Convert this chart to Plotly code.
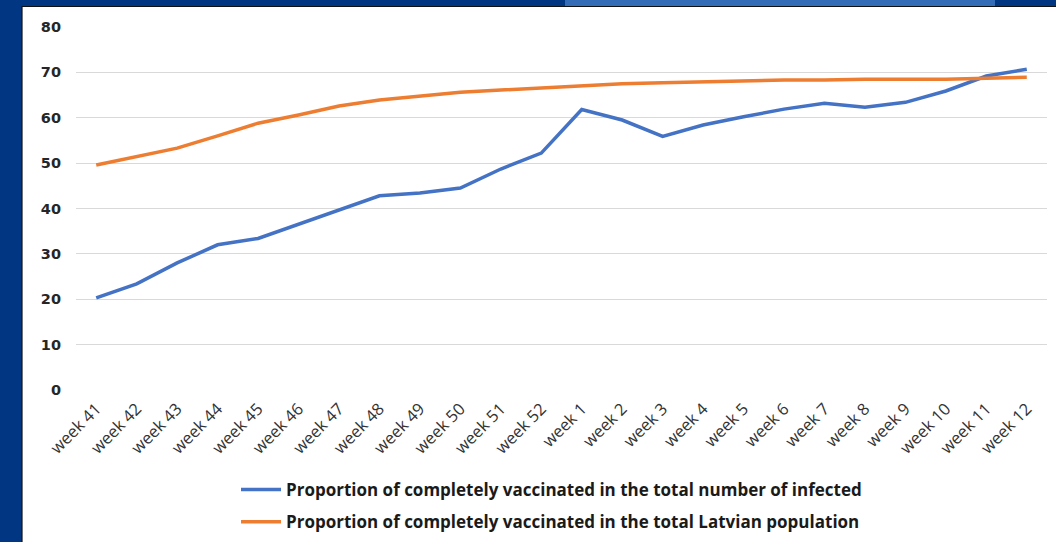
import plotly.graph_objects as go

weeks = ["week 41", "week 42", "week 43", "week 44", "week 45", "week 46", "week 47",
         "week 48", "week 49", "week 50", "week 51", "week 52", "week 1", "week 2",
         "week 3", "week 4", "week 5", "week 6", "week 7", "week 8", "week 9",
         "week 10", "week 11", "week 12"]

infected_vacc = [20.3, 23.4, 28.0, 32.0, 33.4, 36.6, 39.6, 42.8, 43.4, 44.5, 48.7, 52.2,
                 61.8, 59.5, 55.9, 58.4, 60.2, 61.9, 63.2, 62.3, 63.4, 65.9, 69.2, 70.7]

population_vacc = [49.6, 51.5, 53.3, 56.0, 58.8, 60.6, 62.6, 63.9, 64.8, 65.6, 66.1, 66.6,
                   67.1, 67.5, 67.7, 67.9, 68.1, 68.3, 68.3, 68.5, 68.5, 68.5, 68.7, 68.9]

names = ["Proportion of completely vaccinated in the total number of infected",
         "Proportion of completely vaccinated in the total Latvian population"]

W, H = 1056, 542
L, R, T, B = 76, 9, 27, 152
PW, PH = W - L - R, H - T - B


def fx(px):
    return (px - L) / PW


def fy(py):
    return (H - B - py) / PH


fig = go.Figure()
fig.add_trace(go.Scatter(x=weeks, y=infected_vacc, mode="lines", name=names[0],
                         legendgroup="a",
                         line=dict(color="#4472C4", width=3.5)))
fig.add_trace(go.Scatter(x=weeks, y=population_vacc, mode="lines", name=names[1],
                         legendgroup="b",
                         line=dict(color="#ED7D31", width=3.5)))

shapes = [
    dict(type="rect", xref="paper", yref="paper", x0=fx(-5), x1=fx(W + 5), y0=fy(H + 5), y1=fy(-5),
         fillcolor="#013682", line=dict(width=0), layer="below"),
    dict(type="rect", xref="paper", yref="paper", x0=fx(565), x1=fx(995), y0=fy(6), y1=fy(-5),
         fillcolor="#356cb8", line=dict(width=0), layer="below"),
    dict(type="rect", xref="paper", yref="paper", x0=fx(22), x1=fx(W + 20), y0=fy(H + 20), y1=fy(6.5),
         fillcolor="white", line=dict(color="#111111", width=1.2), layer="below"),
]

fig.update_layout(
    width=W, height=H,
    margin=dict(l=L, r=R, t=T, b=B, autoexpand=False),
    paper_bgcolor="#013682",
    plot_bgcolor="rgba(0,0,0,0)",
    shapes=shapes,
    showlegend=True,
    legend=dict(orientation="v", x=fx(236), y=fy(472), xanchor="left", yanchor="top",
                font=dict(family="Open Sans", size=17, color="#1a1a1a", weight="bold"),
                tracegroupgap=7, itemwidth=40, bgcolor="rgba(0,0,0,0)"),
    xaxis=dict(
        type="category", range=[-0.5, len(weeks) - 0.5], automargin=False,
        tickangle=-45, showgrid=False, showline=False, ticks="",
        ticklabelstandoff=5,
        tickfont=dict(family="Open Sans", size=16.5, color="#333333"),
    ),
    yaxis=dict(
        range=[0, 80], tickvals=[0, 10, 20, 30, 40, 50, 60, 70, 80], automargin=False,
        showgrid=True, gridcolor="#d9d9d9", gridwidth=1, zeroline=False,
        showline=False, ticks="", ticklabelstandoff=14,
        tickfont=dict(family="DejaVu Sans", size=14.5, color="#262626", weight="bold"),
    ),
)

fig.write_html("out.html")
